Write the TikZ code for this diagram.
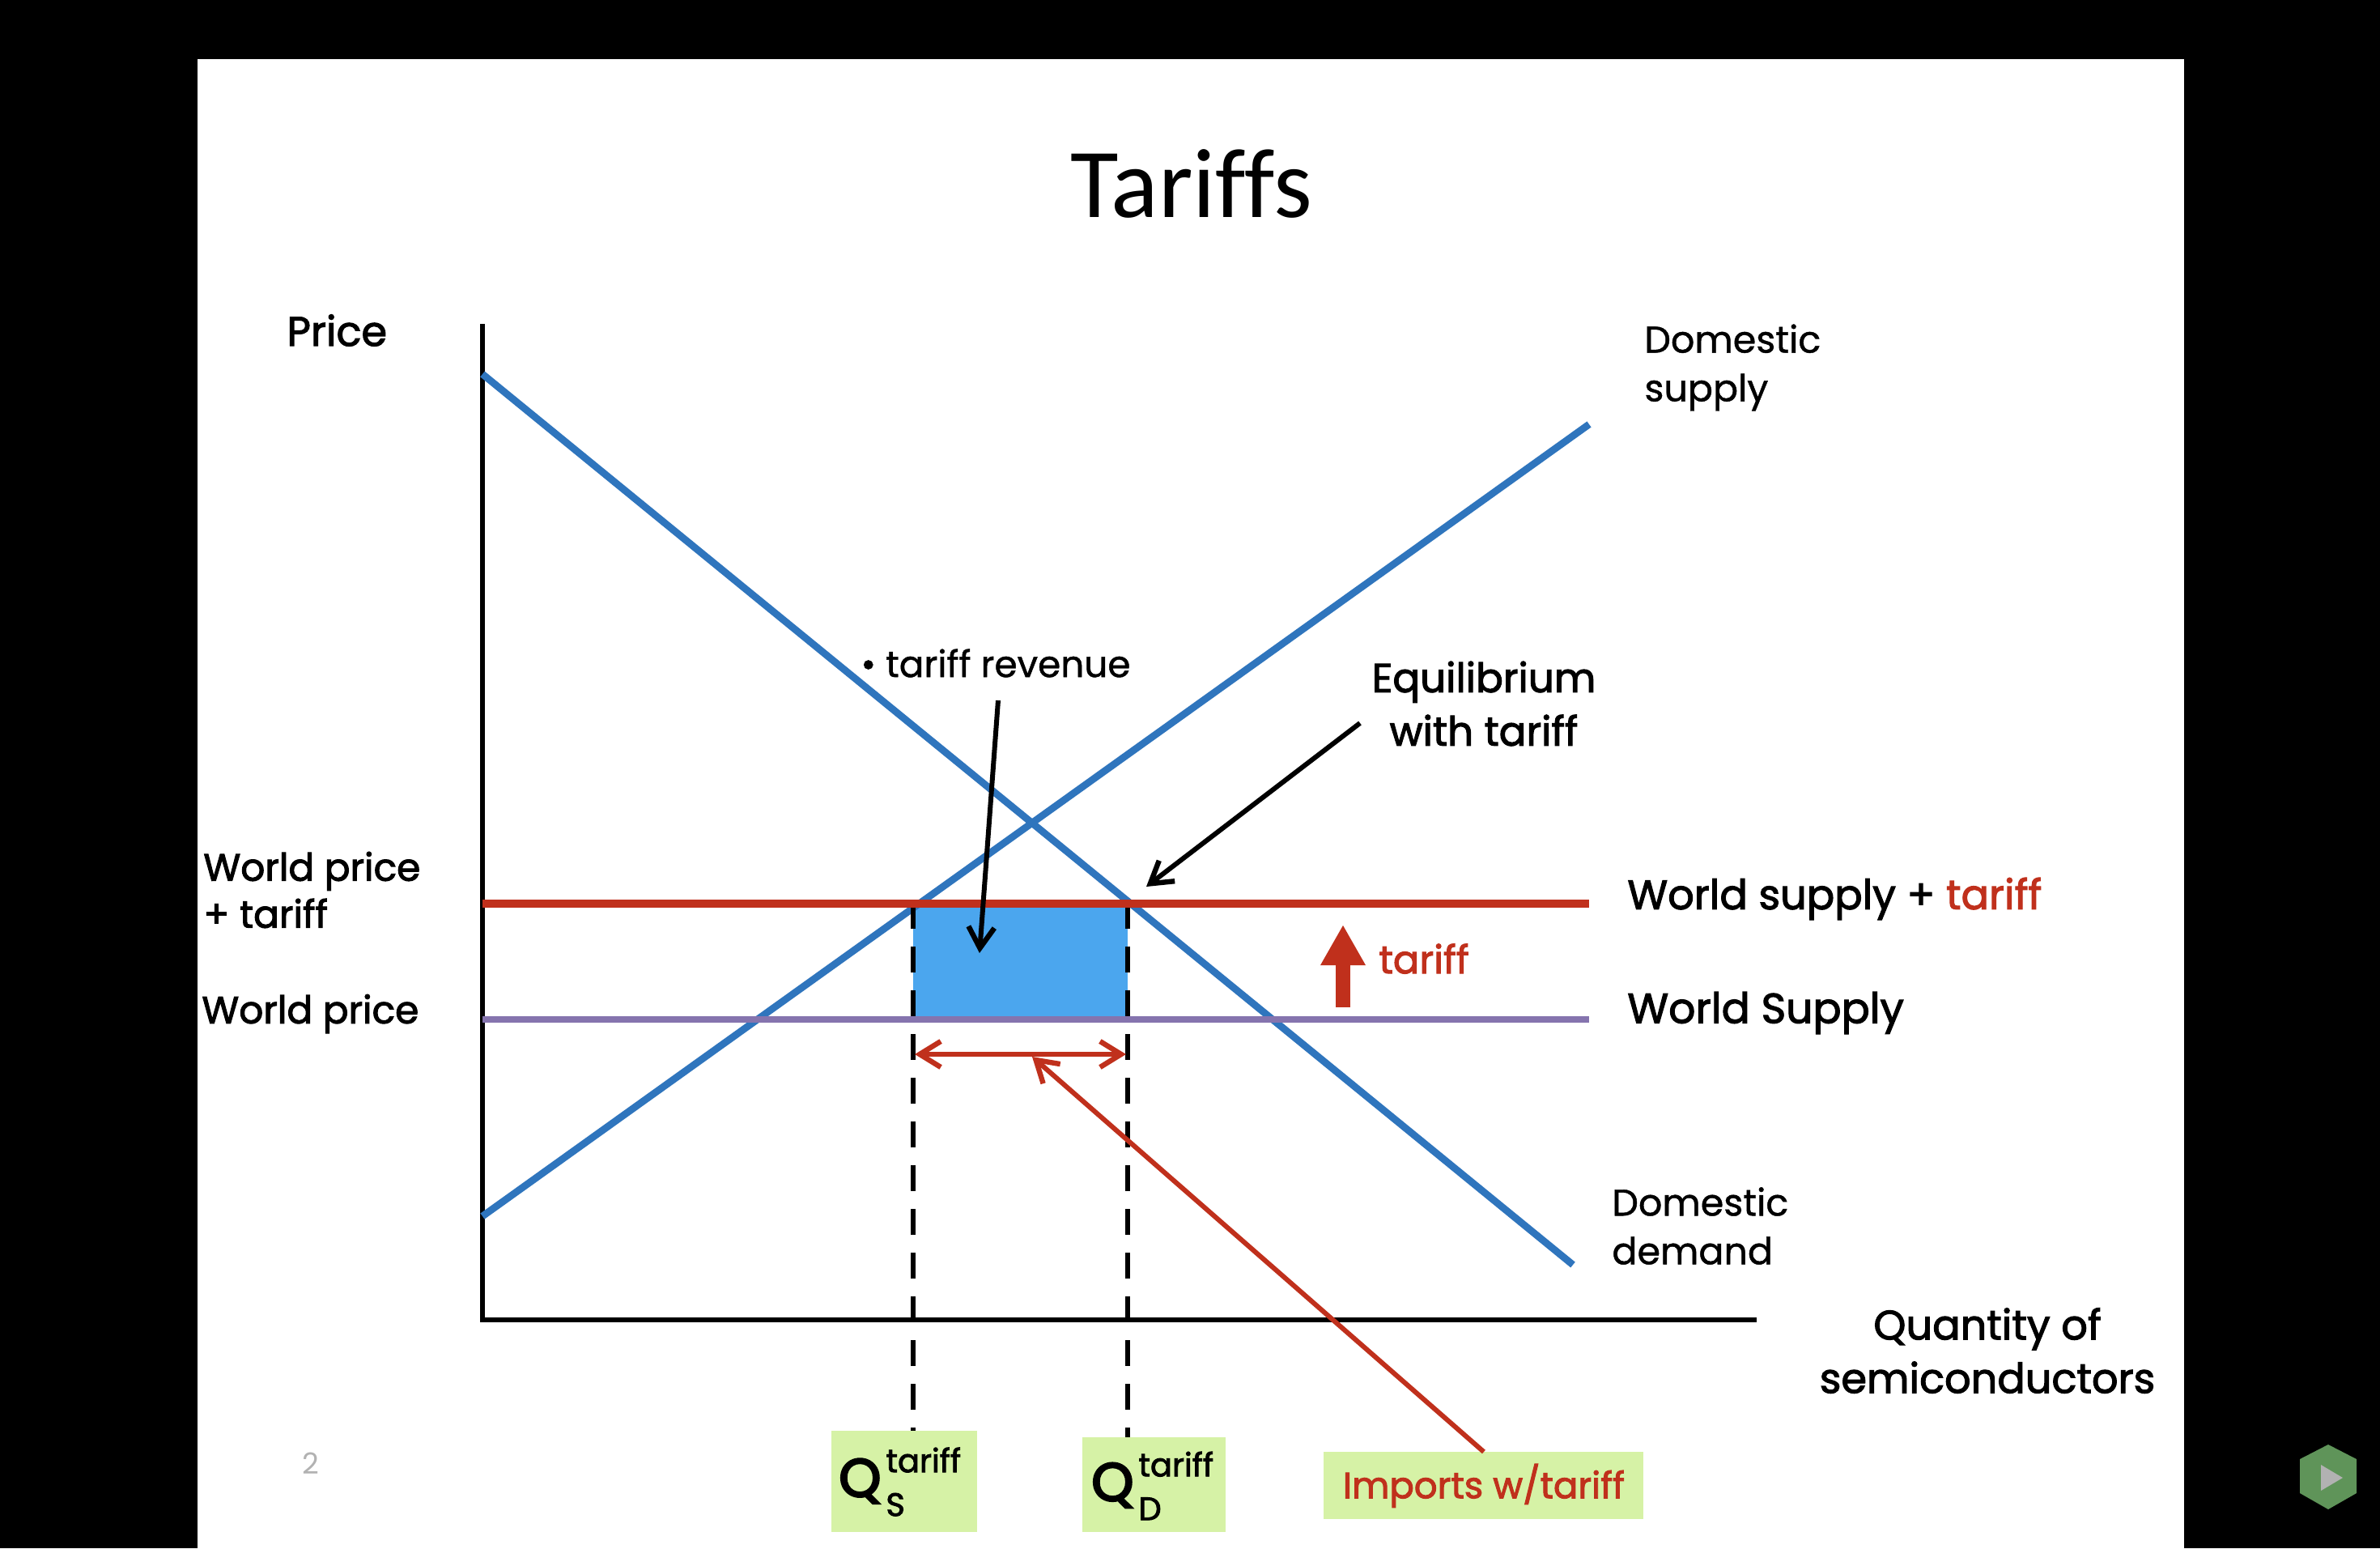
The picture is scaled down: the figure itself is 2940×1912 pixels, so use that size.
\documentclass[tikz,border=0pt]{standalone}
\usepackage{fontspec}
\setmainfont{Poppins}
\newfontfamily\medfont[FakeBold=1.0,BoldFont={Poppins},BoldFeatures={FakeBold=2.2}]{Poppins}
\newfontfamily\heavyfont[FakeBold=4]{Poppins}
\newfontfamily\titlefont[Ligatures=NoCommon]{Carlito}
\newcommand{\fsz}[2]{\fontsize{#1}{#2}\selectfont}
\usetikzlibrary{arrows.meta}
\definecolor{curveblue}{HTML}{2F75BD}
\definecolor{wred}{HTML}{C0301C}
\definecolor{wpurple}{HTML}{8574AE}
\definecolor{revblue}{HTML}{4BA6EE}
\definecolor{qgreen}{HTML}{D6F2A6}
\definecolor{badge}{HTML}{5F9459}
\tikzset{
  x=0.5pt,y=-0.5pt,
  lbl/.style={inner sep=0pt,font=\medfont\fsz{23}{30}},
  blbl/.style={inner sep=0pt,font=\medfont\bfseries\fsz{25.5}{32}},
  curve/.style={draw=curveblue,line width=4.4pt},
  axisline/.style={draw=black,line width=3pt},
  guide/.style={draw=black,line width=2.6pt,dash pattern=on 16pt off 11pt},
  qbox/.style={fill=qgreen,inner sep=0pt,anchor=north west},
  barbtip/.tip={Straight Barb[length=13pt,width=16pt,line width=3.2pt]},
  barb/.style={line width=3pt,-barbtip},
}
\begin{document}
\begin{tikzpicture}
\useasboundingbox (0,0) rectangle (2940,1912);
\fill[black] (0,0) rectangle (2940,1912);
\fill[white] (244,73) rectangle (2698,1912);
% named points
\coordinate (yt) at (596,400); \coordinate (o) at (596,1630); \coordinate (xr) at (2170,1630);
\coordinate (d1) at (596,462); \coordinate (d2) at (1943,1562);
\coordinate (s1) at (596,1502); \coordinate (s2) at (1963,524);
\coordinate (w1) at (596,1116); \coordinate (w2) at (1963,1116);
\coordinate (p1) at (596,1259); \coordinate (p2) at (1963,1259);
\coordinate (ga) at (1128,1115); \coordinate (gb) at (1128,1767);
\coordinate (ha) at (1393,1115); \coordinate (hb) at (1393,1775);
\coordinate (ia) at (1130,1302); \coordinate (ib) at (1391,1302);
\coordinate (rs) at (1233,865); \coordinate (rt) at (1210,1177);
\coordinate (es) at (1680,893); \coordinate (et) at (1416,1095);
\coordinate (ta) at (1659,1244); \coordinate (tb) at (1659,1142);
\coordinate (it) at (1275,1305);
% revenue box
\fill[revblue] (1128,1116) rectangle (1393,1258);
% curves
\draw[axisline] (yt) -- (o) -- (xr);
\draw[curve] (d1) -- (d2);
\draw[curve] (s1) -- (s2);
\draw[guide] (ga) -- (gb);
\draw[guide] (ha) -- (hb);
\draw[draw=wred,line width=5pt] (w1) -- (w2);
\draw[draw=wpurple,line width=4pt] (p1) -- (p2);
% title and labels
\node[inner sep=0pt,font=\titlefont\fsz{61}{62}] (title) at (1472,227) {Tariffs};
\node[blbl,anchor=west] (price) at (354,408) {Price};
\node[lbl,anchor=west,align=left] (dsup) at (2031,454) {Domestic\\supply};
\node[lbl,anchor=west,align=left] (ddem) at (1991,1514) {Domestic\\demand};
\node[lbl,anchor=west,font=\medfont\fsz{22.7}{30}] (rev) at (1063,819) {• tariff revenue};
\node[blbl,align=center,font=\medfont\bfseries\fsz{25}{33}] (eq) at (1833,869) {Equilibrium\\with tariff};
\node[lbl,anchor=west,align=left,font=\medfont\bfseries\fsz{23.5}{29}] (wpt) at (251,1099) {World price\\+ tariff};
\node[lbl,anchor=west,font=\medfont\bfseries\fsz{23.5}{29}] (wp) at (249,1252) {World price};
\node[blbl,anchor=west] (wst) at (2010,1110) {World supply + \textcolor{wred}{tariff}};
\node[blbl,anchor=west,font=\medfont\bfseries\fsz{26}{32}] (ws) at (2010,1251) {World Supply};
\node[blbl,anchor=west,text=wred,font=\medfont\bfseries\fsz{24}{30}] (tar) at (1703,1184) {tariff};
\node[blbl,align=center,font=\medfont\bfseries\fsz{25.5}{33}] (qty) at (2455,1668) {Quantity of\\semiconductors};
\node[inner sep=0pt,text=black!30,font=\fsz{18}{20}] (pg) at (384,1807) {2};
% green boxes
\node[qbox,minimum width=90pt,minimum height=62.5pt] (qs) at (1027,1767) {};
\node[inner sep=0pt,anchor=west] (qst) at (1036,1830) {{\heavyfont\fsz{33}{34}Q}\hspace{3pt}\rlap{\raisebox{15pt}{\medfont\bfseries\fsz{20}{20}tariff}}\raisebox{-12pt}{\medfont\bfseries\fsz{20}{20}S}};
\node[qbox,minimum width=88.5pt,minimum height=58.5pt] (qd) at (1337,1775) {};
\node[inner sep=0pt,anchor=west] (qdt) at (1348,1835) {{\heavyfont\fsz{33}{34}Q}\hspace{3pt}\rlap{\raisebox{15pt}{\medfont\bfseries\fsz{20}{20}tariff}}\raisebox{-12pt}{\medfont\bfseries\fsz{20}{20}D}};
\node[qbox,minimum width=197.5pt,minimum height=41.5pt] (imp) at (1635,1793) {};
\node[inner sep=0pt,text=wred,font=\medfont\bfseries\fsz{22.5}{24}] (impt) at (imp.center) {Imports w/tariff};
% arrows
\draw[barb,draw=black] (rs) -- (rt);
\draw[barb,draw=black] (es) -- (et);
\draw[draw=wred,line width=3pt,barbtip-barbtip] (ia) -- (ib);
\draw[barb,draw=wred] (imp.north) -- (it);
\draw[draw=wred,line width=9pt,-{Triangle[length=25pt,width=26pt]}] (ta) -- (tb);
% play badge
\fill[badge] (2876,1784) -- (2911,1802) -- (2911,1844) -- (2876,1864) -- (2841,1844) -- (2841,1802) -- cycle;
\fill[black!30] (2867,1809) -- (2894,1825) -- (2867,1841) -- cycle;
\end{tikzpicture}
\end{document}
